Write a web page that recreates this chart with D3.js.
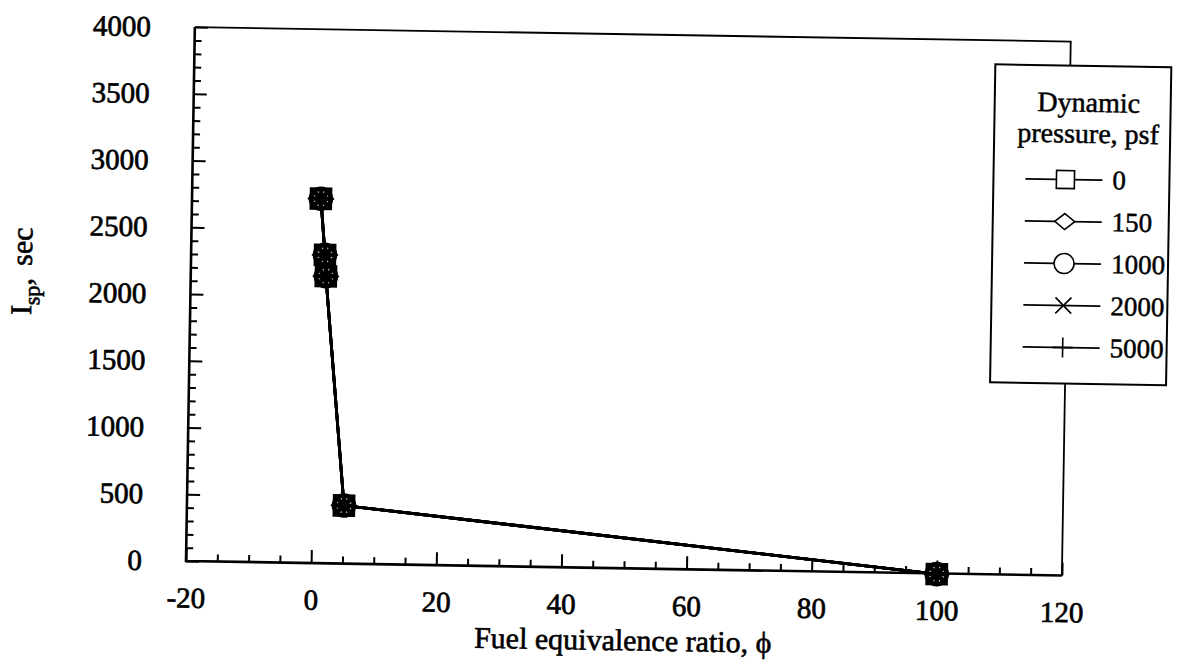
<!DOCTYPE html>
<html><head><meta charset="utf-8">
<script src="https://cdn.jsdelivr.net/npm/d3@7"></script>
<style>
body{margin:0;background:#fff}
svg{display:block}
text{font-family:"Liberation Serif","Times New Roman",serif !important;fill:#000}
</style>
</head><body>
<svg id="c" width="1193" height="665"></svg>
<script>
// ---- data ----
const phi = [0.6, 1.4, 1.6, 5.1, 100];
const isp_q0    = [2730, 2310, 2150, 435, -5];
const isp_q150  = [2730, 2310, 2150, 435, -5];
const isp_q1000 = [2730, 2310, 2150, 435, -5];
const isp_q2000 = [2730, 2310, 2150, 435, -5];
const isp_q5000 = [2730, 2310, 2150, 435, -5];
const seriesNames = ["0", "150", "1000", "2000", "5000"];
const markerTypes = ["square", "diamond", "circle", "cross", "plus"];
const xTickLabels = [-20, 0, 20, 40, 60, 80, 100, 120];
const yTickLabels = [0, 500, 1000, 1500, 2000, 2500, 3000, 3500, 4000];
const xMinor = d3.range(-20, 121, 5).filter(v => v % 20 !== 0);
const yMinor = d3.range(0, 4001, 100).filter(v => v % 500 !== 0);
const legendTitle = ["Dynamic", "pressure, psf"];
const xTitle = "Fuel equivalence ratio, \u03D5";

const allSeries = [isp_q0, isp_q150, isp_q1000, isp_q2000, isp_q5000];

// ---- layout ----
const SERIF = '"Liberation Serif","Times New Roman",serif';
const L = 186, R = 1062, T = 27, B = 561;
const svg = d3.select("#c");
const g = svg.append("g").attr("transform", `rotate(0.95, ${L}, ${B})`);

const x = d3.scaleLinear().domain([-20, 120]).range([L, R]);
const y = d3.scaleLinear().domain([0, 4000]).range([B, T]);

function markerPath(type) {
  switch (type) {
    case "square": return "M-9,-9H9V9H-9Z";
    case "diamond": return "M0,-8L10,0L0,8L-10,0Z";
    case "circle": return "M-10,0A10,10 0 1,0 10,0A10,10 0 1,0 -10,0Z";
    case "cross": return "M-8,-8L8,8M-8,8L8,-8";
    case "plus": return "M-10,0H10M0,-10V10";
  }
}
function thick(sel, w) {
  sel.attr("stroke", "#000").attr("stroke-width", w).attr("paint-order", "stroke");
}

// axes ticks
function styleAxis(sel, fs) {
  sel.attr("font-family", SERIF);
  sel.select(".domain").remove();
  sel.selectAll(".tick line").attr("stroke", "#000").attr("stroke-width", 2);
  sel.selectAll(".tick text").style("font-size", fs + "px").style("font-family", SERIF)
    .attr("fill", "#000").call(thick, 0.7);
}
g.append("g").attr("transform", `translate(0,${B})`)
  .call(d3.axisBottom(x).tickValues(xMinor).tickSize(-7).tickFormat(""))
  .call(s => styleAxis(s, 29));
g.append("g").attr("transform", `translate(0,${B})`)
  .call(d3.axisBottom(x).tickValues(xTickLabels).tickSize(-13).tickPadding(26).tickFormat(d => String(d)))
  .call(s => styleAxis(s, 29));
g.append("g").attr("transform", `translate(${L},0)`)
  .call(d3.axisLeft(y).tickValues(yMinor).tickSize(-7).tickFormat(""))
  .call(s => styleAxis(s, 29));
g.append("g").attr("transform", `translate(${L},0)`)
  .call(d3.axisLeft(y).tickValues(yTickLabels).tickSize(-13).tickPadding(44).tickFormat(d => String(d)))
  .call(s => styleAxis(s, 29));

// frame
g.append("path")
  .attr("d", `M${L},${T}H${R}V${B}`)
  .attr("fill", "none").attr("stroke", "#000").attr("stroke-width", 1.8);
g.append("path")
  .attr("d", `M${L},${T}V${B}H${R}`)
  .attr("fill", "none").attr("stroke", "#000").attr("stroke-width", 2.6);

// data lines and markers
const line = d3.line().x((d, i) => x(phi[i])).y(d => y(d));
allSeries.forEach((vals) => {
  g.append("path").attr("d", line(vals))
    .attr("fill", "none").attr("stroke", "#000").attr("stroke-width", 2.8);
});
allSeries.forEach((vals, si) => {
  g.selectAll(null).data(vals).enter().append("path")
    .attr("transform", (d, i) => `translate(${x(phi[i])},${y(d)})`)
    .attr("d", markerPath(markerTypes[si]))
    .attr("fill", markerTypes[si] === "cross" || markerTypes[si] === "plus" ? "none" : "#fff")
    .attr("stroke", "#000").attr("stroke-width", 4.6);
});

// axis titles
g.append("text").attr("x", (L + R) / 2).attr("y", 643)
  .attr("text-anchor", "middle").style("font-size", "30px").call(thick, 0.6).text(xTitle);

const yt = g.append("text")
  .attr("transform", `translate(27,${274}) rotate(-90)`)
  .attr("text-anchor", "middle").style("font-size", "30px").call(thick, 0.6);
yt.append("tspan").text("I");
yt.append("tspan").attr("dy", 8).style("font-size", "22px").text("sp");
yt.append("tspan").attr("dy", -8).text(",");
yt.append("tspan").attr("dx", 12).text("sec");

// legend
const lg = g.append("g");
lg.append("rect").attr("x", 987).attr("y", 51).attr("width", 176).attr("height", 318)
  .attr("fill", "#fff").attr("stroke", "#000").attr("stroke-width", 2);
legendTitle.forEach((t, i) => {
  lg.append("text").attr("x", 1081).attr("y", 97 + i * 31)
    .attr("text-anchor", "middle").style("font-size", "28px").call(thick, 0.5).text(t);
});
const rowY = d3.scaleLinear().domain([0, 4]).range([165, 333]);
seriesNames.forEach((nm, i) => {
  const yy = rowY(i);
  lg.append("line").attr("x1", 1019).attr("x2", 1096).attr("y1", yy).attr("y2", yy)
    .attr("stroke", "#000").attr("stroke-width", 1.6);
  lg.append("path").attr("transform", `translate(1059,${yy})`)
    .attr("d", markerPath(markerTypes[i]))
    .attr("fill", markerTypes[i] === "cross" || markerTypes[i] === "plus" ? "none" : "#fff")
    .attr("stroke", "#000").attr("stroke-width", 1.6);
  lg.append("text").attr("x", 1106).attr("y", yy + 9).style("font-size", "27px")
    .call(thick, 0.5).text(nm);
});
</script>
</body></html>
